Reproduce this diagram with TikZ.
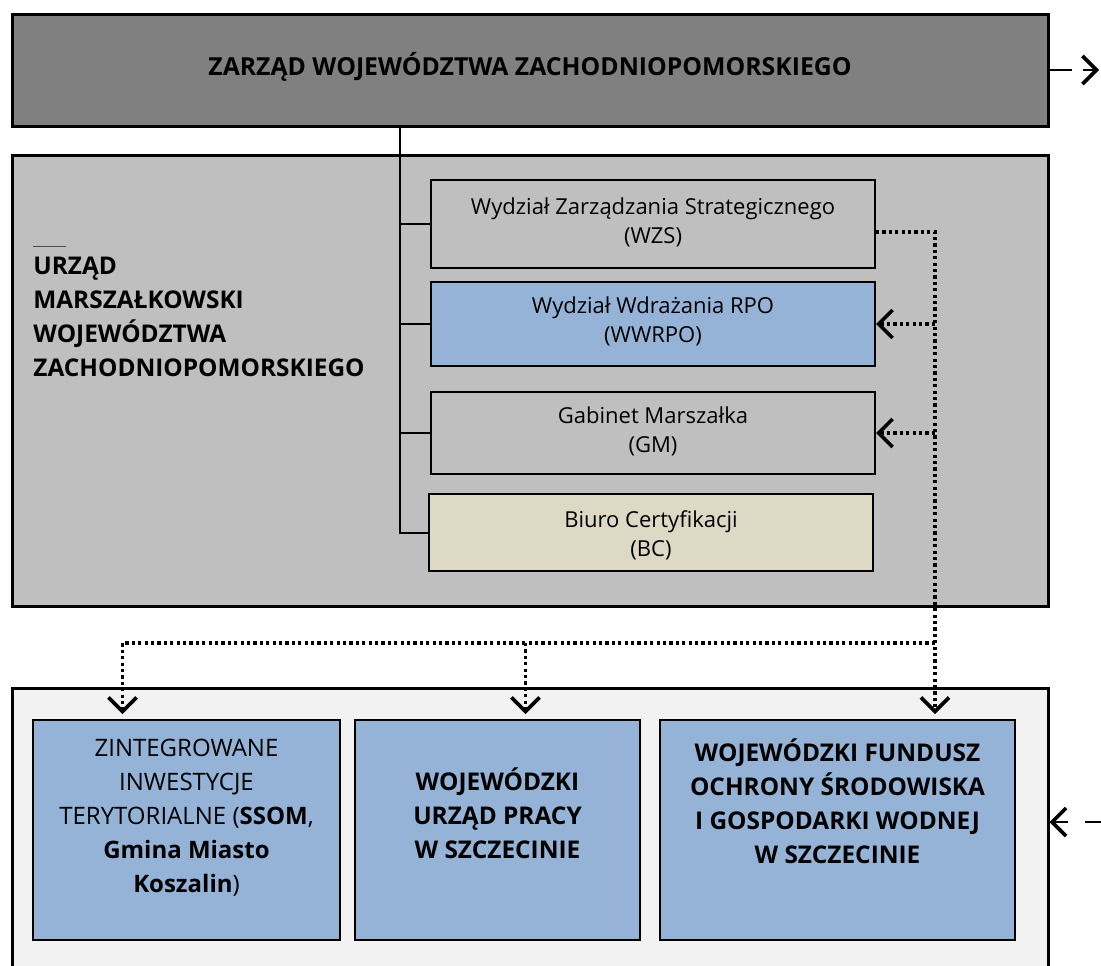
\documentclass[tikz,border=0pt]{standalone}
\usepackage{fontspec}
\setmainfont{Open Sans}
\usetikzlibrary{arrows.meta,fit}

\definecolor{zarzadgray}{RGB}{128,128,128}
\definecolor{urzadgray}{RGB}{191,191,191}
\definecolor{rpoblue}{RGB}{149,179,215}
\definecolor{bcbeige}{RGB}{221,217,196}
\definecolor{jednostkigray}{RGB}{242,242,242}

\tikzset{
  bigbox/.style={draw, line width=1.5pt, inner sep=0pt},
  unitbox/.style={draw, line width=1pt, inner sep=0pt},
  unittext/.style={align=center, inner sep=0pt,
    font=\fontsize{11}{14.5}\selectfont},
  bottomtext/.style={align=center, inner sep=0pt,
    font=\fontsize{12}{17}\selectfont},
  bottombold/.style={align=center, inner sep=0pt,
    font=\bfseries\fontsize{12.2}{17}\selectfont},
  dotline/.style={line width=1.6pt, dash pattern=on 1.6pt off 1.6pt},
  barb/.style={-{Straight Barb[length=7pt,width=14pt,line width=1.8pt]}},
}

\begin{document}
\begin{tikzpicture}[x=0.5pt,y=-0.5pt]
\useasboundingbox (0,0) rectangle (1101,965);

% zarzad
\node[bigbox, fill=zarzadgray, fit={(12,14) (1048,126)}] (zarzad) {};
\node[inner sep=0pt, font=\bfseries\fontsize{12.4}{14}\selectfont]
  (zarzadtext) at ([yshift=1.5pt]zarzad.center)
  {ZARZĄD WOJEWÓDZTWA ZACHODNIOPOMORSKIEGO};

% urzad marszalkowski
\node[bigbox, fill=urzadgray, fit={(12,155) (1048,606)}] (urzad) {};
\draw[line width=0.5pt, black!70] (33,246) -- (66,246);
\node[anchor=north west, align=left, inner sep=0pt,
  font=\bfseries\fontsize{12.2}{17}\selectfont] (urzadtext) at (33,257)
  {URZĄD\\MARSZAŁKOWSKI\\WOJEWÓDZTWA\\ZACHODNIOPOMORSKIEGO};

\node[unitbox, fill=urzadgray, fit={(431,180) (875,268)}] (wzs) {};
\node[unitbox, fill=rpoblue, fit={(431,282) (875,366)}] (wwrpo) {};
\node[unitbox, fill=urzadgray, fit={(431,392) (875,474)}] (gm) {};
\node[unitbox, fill=bcbeige, fit={(429,494) (873,571)}] (bc) {};
\node[unittext] (wzstext) at ([yshift=1pt]wzs.center)
  {Wydział Zarządzania Strategicznego\\(WZS)};
\node[unittext] (wwrpotext) at ([yshift=1.5pt]wwrpo.center)
  {Wydział Wdrażania RPO\\(WWRPO)};
\node[unittext] (gmtext) at ([yshift=1pt]gm.center)
  {Gabinet Marszałka\\(GM)};
\node[unittext] (bctext) at ([yshift=-1.25pt]bc.center)
  {Biuro Certyfikacji\\(BC)};

\coordinate (spine) at (400,126);
\draw[line width=1pt] (spine) |- (bc.west);
\foreach \u in {wzs,wwrpo,gm}
  \draw[line width=1pt] (spine |- \u.west) -- (\u.west);

% jednostki
\node[bigbox, fill=jednostkigray, fit={(12,688) (1048,990)}] (jednostki) {};
\node[unitbox, fill=rpoblue, fit={(33,720) (340,940)}] (zit) {};
\node[unitbox, fill=rpoblue, fit={(355,720) (640,940)}] (wup) {};
\node[unitbox, fill=rpoblue, fit={(660,720) (1015,940)}] (wfos) {};

\node[bottomtext] (zittext) at ([yshift=6pt]zit.center)
  {ZINTEGROWANE\\INWESTYCJE\\TERYTORIALNE (\textbf{SSOM},\\
   \textbf{Gmina Miasto}\\\textbf{Koszalin})};
\node[bottombold] (wuptext) at ([yshift=8.5pt]wup.center)
  {WOJEWÓDZKI\\URZĄD PRACY\\W SZCZECINIE};
\node[bottombold] (wfostext) at ([yshift=14.5pt]wfos.center)
  {WOJEWÓDZKI FUNDUSZ\\OCHRONY ŚRODOWISKA\\I GOSPODARKI WODNEJ\\W SZCZECINIE};

% powiazania
\coordinate (trunk) at (935,232);
\coordinate (split) at (935,643);
\draw[dotline, barb, shorten >=2.5pt] ([yshift=-4pt]wzs.east) -- (trunk)
  -- (trunk |- wfos.north);
\draw[dotline, barb] (trunk |- wwrpo.east) -- (wwrpo.east);
\draw[dotline, barb] (trunk |- gm.east) -- (gm.east);
\draw[dotline, barb, shorten >=2.5pt] (split) -| ([xshift=-32pt]zit.north);
\draw[dotline, barb, shorten >=2.5pt] ([xshift=14pt]wup.north |- split)
  -- ([xshift=14pt]wup.north);

\coordinate (wyjscie) at (1099,70);
\coordinate (wejscie) at (1101,822);
\draw[line width=1.2pt, dash pattern=on 11pt off 5.5pt, barb]
  (zarzad.east) -- (wyjscie);
\draw[line width=1.2pt, dash pattern=on 8pt off 8.5pt, barb]
  (wejscie) -- (jednostki.east |- wejscie);
\end{tikzpicture}
\end{document}
